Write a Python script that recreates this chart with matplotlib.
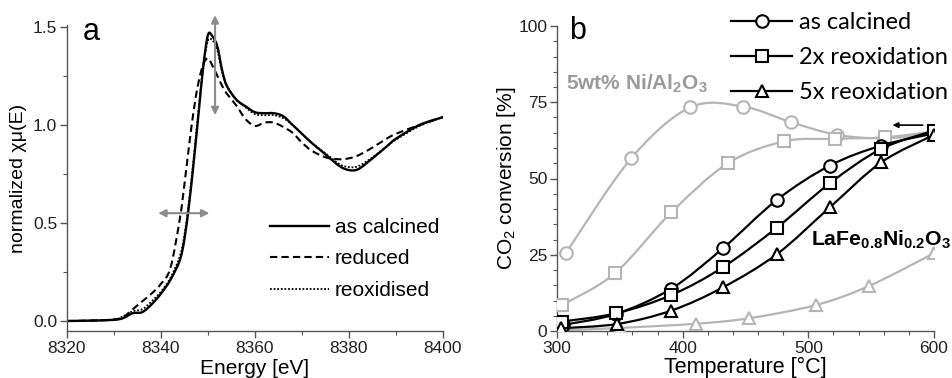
import matplotlib
matplotlib.use('Agg')
import matplotlib.pyplot as plt
from matplotlib.path import Path
from matplotlib.patches import PathPatch
from matplotlib.lines import Line2D

plt.rcParams['font.family'] = ['Liberation Sans', 'DejaVu Sans']
plt.rcParams['mathtext.fontset'] = 'custom'
plt.rcParams['mathtext.rm'] = 'Liberation Sans'
plt.rcParams['mathtext.it'] = 'Liberation Sans:italic'
plt.rcParams['mathtext.bf'] = 'Liberation Sans:bold'

# --- panel a: XANES spectra ---
energy = [8320, 8325, 8330, 8332, 8334, 8336, 8338, 8340, 8342, 8344, 8345, 8346,
          8347, 8348, 8349, 8350, 8351, 8352, 8353, 8354, 8356, 8358, 8360, 8362,
          8364, 8366, 8368, 8370, 8372, 8375, 8378, 8380, 8382, 8385, 8388, 8390,
          8395, 8400]
mu_calcined = [0, 0.002, 0.006, 0.015, 0.04, 0.045, 0.085, 0.14, 0.21, 0.31, 0.42, 0.60,
               0.82, 1.06, 1.30, 1.46, 1.45, 1.40, 1.28, 1.20, 1.13, 1.095, 1.065, 1.06,
               1.06, 1.045, 1.0, 0.955, 0.91, 0.85, 0.79, 0.77, 0.775, 0.83, 0.89, 0.93,
               1.0, 1.04]
mu_reduced = [0, 0.002, 0.008, 0.02, 0.06, 0.10, 0.14, 0.19, 0.27, 0.52, 0.70, 0.90,
              1.08, 1.22, 1.31, 1.34, 1.30, 1.25, 1.20, 1.16, 1.10, 1.03, 0.995, 1.012,
              1.012, 0.99, 0.96, 0.91, 0.87, 0.835, 0.825, 0.83, 0.845, 0.885, 0.93, 0.955,
              1.0, 1.04]
mu_reoxidised = [0, 0.002, 0.007, 0.025, 0.05, 0.06, 0.10, 0.15, 0.22, 0.33, 0.44, 0.62,
                 0.84, 1.08, 1.30, 1.43, 1.43, 1.38, 1.27, 1.20, 1.13, 1.09, 1.055, 1.05,
                 1.05, 1.035, 1.0, 0.955, 0.91, 0.855, 0.80, 0.785, 0.79, 0.835, 0.89, 0.925,
                 0.995, 1.04]

# --- panel b: CO2 conversion ---
t_calc = [305, 347, 391, 432, 475, 517, 558, 600]
co2_calc = [2.0, 5.6, 13.9, 27.1, 43.0, 54.2, 60.8, 64.8]
t_reox2 = [304, 347, 391, 432, 475, 517, 558, 600]
co2_reox2 = [3.1, 5.8, 11.8, 20.9, 33.9, 48.4, 59.7, 65.7]
t_reox5 = [303, 348, 391, 432, 475, 517, 558, 600]
co2_reox5 = [0.9, 2.3, 6.7, 14.3, 25.2, 40.5, 55.3, 64.3]

t_ni_calc = [307, 359, 406, 448, 486, 523, 560, 600]
co2_ni_calc = [25.5, 56.6, 73.3, 73.6, 68.5, 64.3, 63.2, 64.5]
t_ni_reox2 = [304, 346, 391, 436, 481, 521, 561, 600]
co2_ni_reox2 = [8.5, 18.9, 38.9, 55.0, 62.2, 63.0, 63.5, 65.4]
t_ni_reox5 = [305, 350, 411, 453, 506, 548, 600]
co2_ni_reox5 = [0.3, 1.0, 2.4, 4.2, 8.5, 14.7, 25.5]


def smooth(ax, x, y, **kw):
    # Catmull-Rom curve drawn as bezier path through the points
    n = len(x)
    verts = [(x[0], y[0])]
    codes = [Path.MOVETO]
    for i in range(n - 1):
        x0, y0 = (x[i - 1], y[i - 1]) if i > 0 else (x[i], y[i])
        x3, y3 = (x[i + 2], y[i + 2]) if i < n - 2 else (x[i + 1], y[i + 1])
        c1 = (x[i] + (x[i + 1] - x0) / 6, y[i] + (y[i + 1] - y0) / 6)
        c2 = (x[i + 1] - (x3 - x[i]) / 6, y[i + 1] - (y3 - y[i]) / 6)
        verts += [c1, c2, (x[i + 1], y[i + 1])]
        codes += [Path.CURVE4] * 3
    patch = PathPatch(Path(verts, codes), fill=False, **kw)
    ax.add_patch(patch)
    return patch


fig = plt.figure(figsize=(9.52, 3.78), dpi=100)
spine_col = '#555555'

# ---------------- panel a ----------------
ax1 = fig.add_axes([67 / 952, 1 - 331 / 378, 376 / 952, 306 / 378])
smooth(ax1, energy, mu_reduced, color='black', lw=1.5, linestyle=(0, (3.5, 2)))
smooth(ax1, energy, mu_reoxidised, color='black', lw=1.3, linestyle=(0, (1, 1)))
smooth(ax1, energy, mu_calcined, color='black', lw=1.7)
ax1.set_xlim(8320, 8400)
ax1.set_ylim(-0.051, 1.51)
ax1.set_xticks([8320, 8340, 8360, 8380, 8400])
ax1.set_xticks(range(8320, 8401, 10), minor=True)
ax1.set_yticks([0, 0.5, 1.0, 1.5])
ax1.set_yticks([0.25, 0.75, 1.25], minor=True)
ax1.yaxis.set_major_formatter(matplotlib.ticker.FormatStrFormatter('%.1f'))
ax1.set_xlabel('Energy [eV]', fontsize=15, labelpad=2)
ax1.set_ylabel('normalized χμ(E)', fontsize=14, labelpad=4)
ax1.text(8323.3, 1.475, 'a', fontsize=22, va='center')

ax1.annotate('', xy=(8351.5, 1.56), xytext=(8351.5, 1.05),
             arrowprops=dict(arrowstyle='<|-|>', color='#8c8c8c', lw=1.5,
                             mutation_scale=11, shrinkA=0, shrinkB=0),
             annotation_clip=False)
ax1.annotate('', xy=(8339.4, 0.55), xytext=(8350.3, 0.55),
             arrowprops=dict(arrowstyle='<|-|>', color='#8c8c8c', lw=1.5,
                             mutation_scale=11, shrinkA=0, shrinkB=0))

h_a = [Line2D([], [], color='black', lw=1.7),
       Line2D([], [], color='black', lw=1.5, linestyle=(0, (3.5, 2))),
       Line2D([], [], color='black', lw=1.3, linestyle=(0, (1, 1)))]
fig.legend(h_a, ['as calcined', 'reduced', 'reoxidised'], loc='upper left',
           bbox_to_anchor=(270 / 952, 1 - 218 / 378), frameon=False, fontsize=15,
           handlelength=2.85, handletextpad=0.25, labelspacing=0.6,
           borderpad=0, borderaxespad=0)

# ---------------- panel b ----------------
ax2 = fig.add_axes([557 / 952, 1 - 331 / 378, 377 / 952, 305 / 378])
gray = '#b5b5b5'
for t, c, m in [(t_ni_calc, co2_ni_calc, 'o'), (t_ni_reox2, co2_ni_reox2, 's'),
                (t_ni_reox5, co2_ni_reox5, '^')]:
    smooth(ax2, t, c, color=gray, lw=1.6, zorder=2)
    ax2.plot(t, c, ls='none', marker=m, ms=9, mfc='white', mec=gray, mew=1.5, zorder=3)
for t, c, m in [(t_calc, co2_calc, 'o'), (t_reox2, co2_reox2, 's'),
                (t_reox5, co2_reox5, '^')]:
    smooth(ax2, t, c, color='black', lw=1.6, zorder=4)
    ax2.plot(t, c, ls='none', marker=m, ms=9, mfc='white', mec='black', mew=1.5, zorder=5)

ax2.set_xlim(300, 600)
ax2.set_ylim(0, 100)
ax2.set_xticks([300, 400, 500, 600])
ax2.set_xticks(range(300, 601, 20), minor=True)
ax2.set_yticks([0, 25, 50, 75, 100])
ax2.set_yticks(range(0, 101, 5), minor=True)
ax2.set_xlabel('Temperature [°C]', fontsize=15.5, labelpad=1)
ax2.set_ylabel('CO$_2$ conversion [%]', fontsize=15, labelpad=0)
ax2.text(310, 98.5, 'b', fontsize=22, va='center')
ax2.text(307, 81, r'5wt% Ni/Al$_\mathregular{2}$O$_\mathregular{3}$', fontsize=15,
         fontweight='bold', color='#9a9a9a', va='center')
ax2.text(502, 30, r'LaFe$_\mathbf{0.8}$Ni$_\mathbf{0.2}$O$_\mathbf{3}$', fontsize=15.3,
         fontweight='bold', color='black', va='center', clip_on=False)
ax2.annotate('', xy=(567, 67.5), xytext=(591, 67.5),
             arrowprops=dict(arrowstyle='-|>', color='black', lw=1.2,
                             mutation_scale=8, shrinkA=0, shrinkB=0))

h_b = [Line2D([], [], color='black', lw=1.6, marker=m, ms=9, mfc='white', mec='black', mew=1.5)
       for m in ['o', 's', '^']]
fig.legend(h_b, ['as calcined', '2x reoxidation', '5x reoxidation'], loc='upper left',
           bbox_to_anchor=(731 / 952, 1 - 12 / 378), frameon=False,
           prop={'family': 'Lato', 'size': 17},
           handlelength=2.6, handletextpad=0.3, labelspacing=0.6,
           borderpad=0, borderaxespad=0)

for ax in (ax1, ax2):
    for s in ('top', 'right'):
        ax.spines[s].set_visible(False)
    for s in ('left', 'bottom'):
        ax.spines[s].set_color(spine_col)
        ax.spines[s].set_linewidth(1.0)
    ax.tick_params(which='major', direction='out', length=5, width=1.0,
                   color=spine_col, labelsize=12.5, labelcolor='#222222', pad=2)
    ax.tick_params(which='minor', direction='out', length=3, width=0.8, color=spine_col)

fig.savefig('out.png', dpi=100)
